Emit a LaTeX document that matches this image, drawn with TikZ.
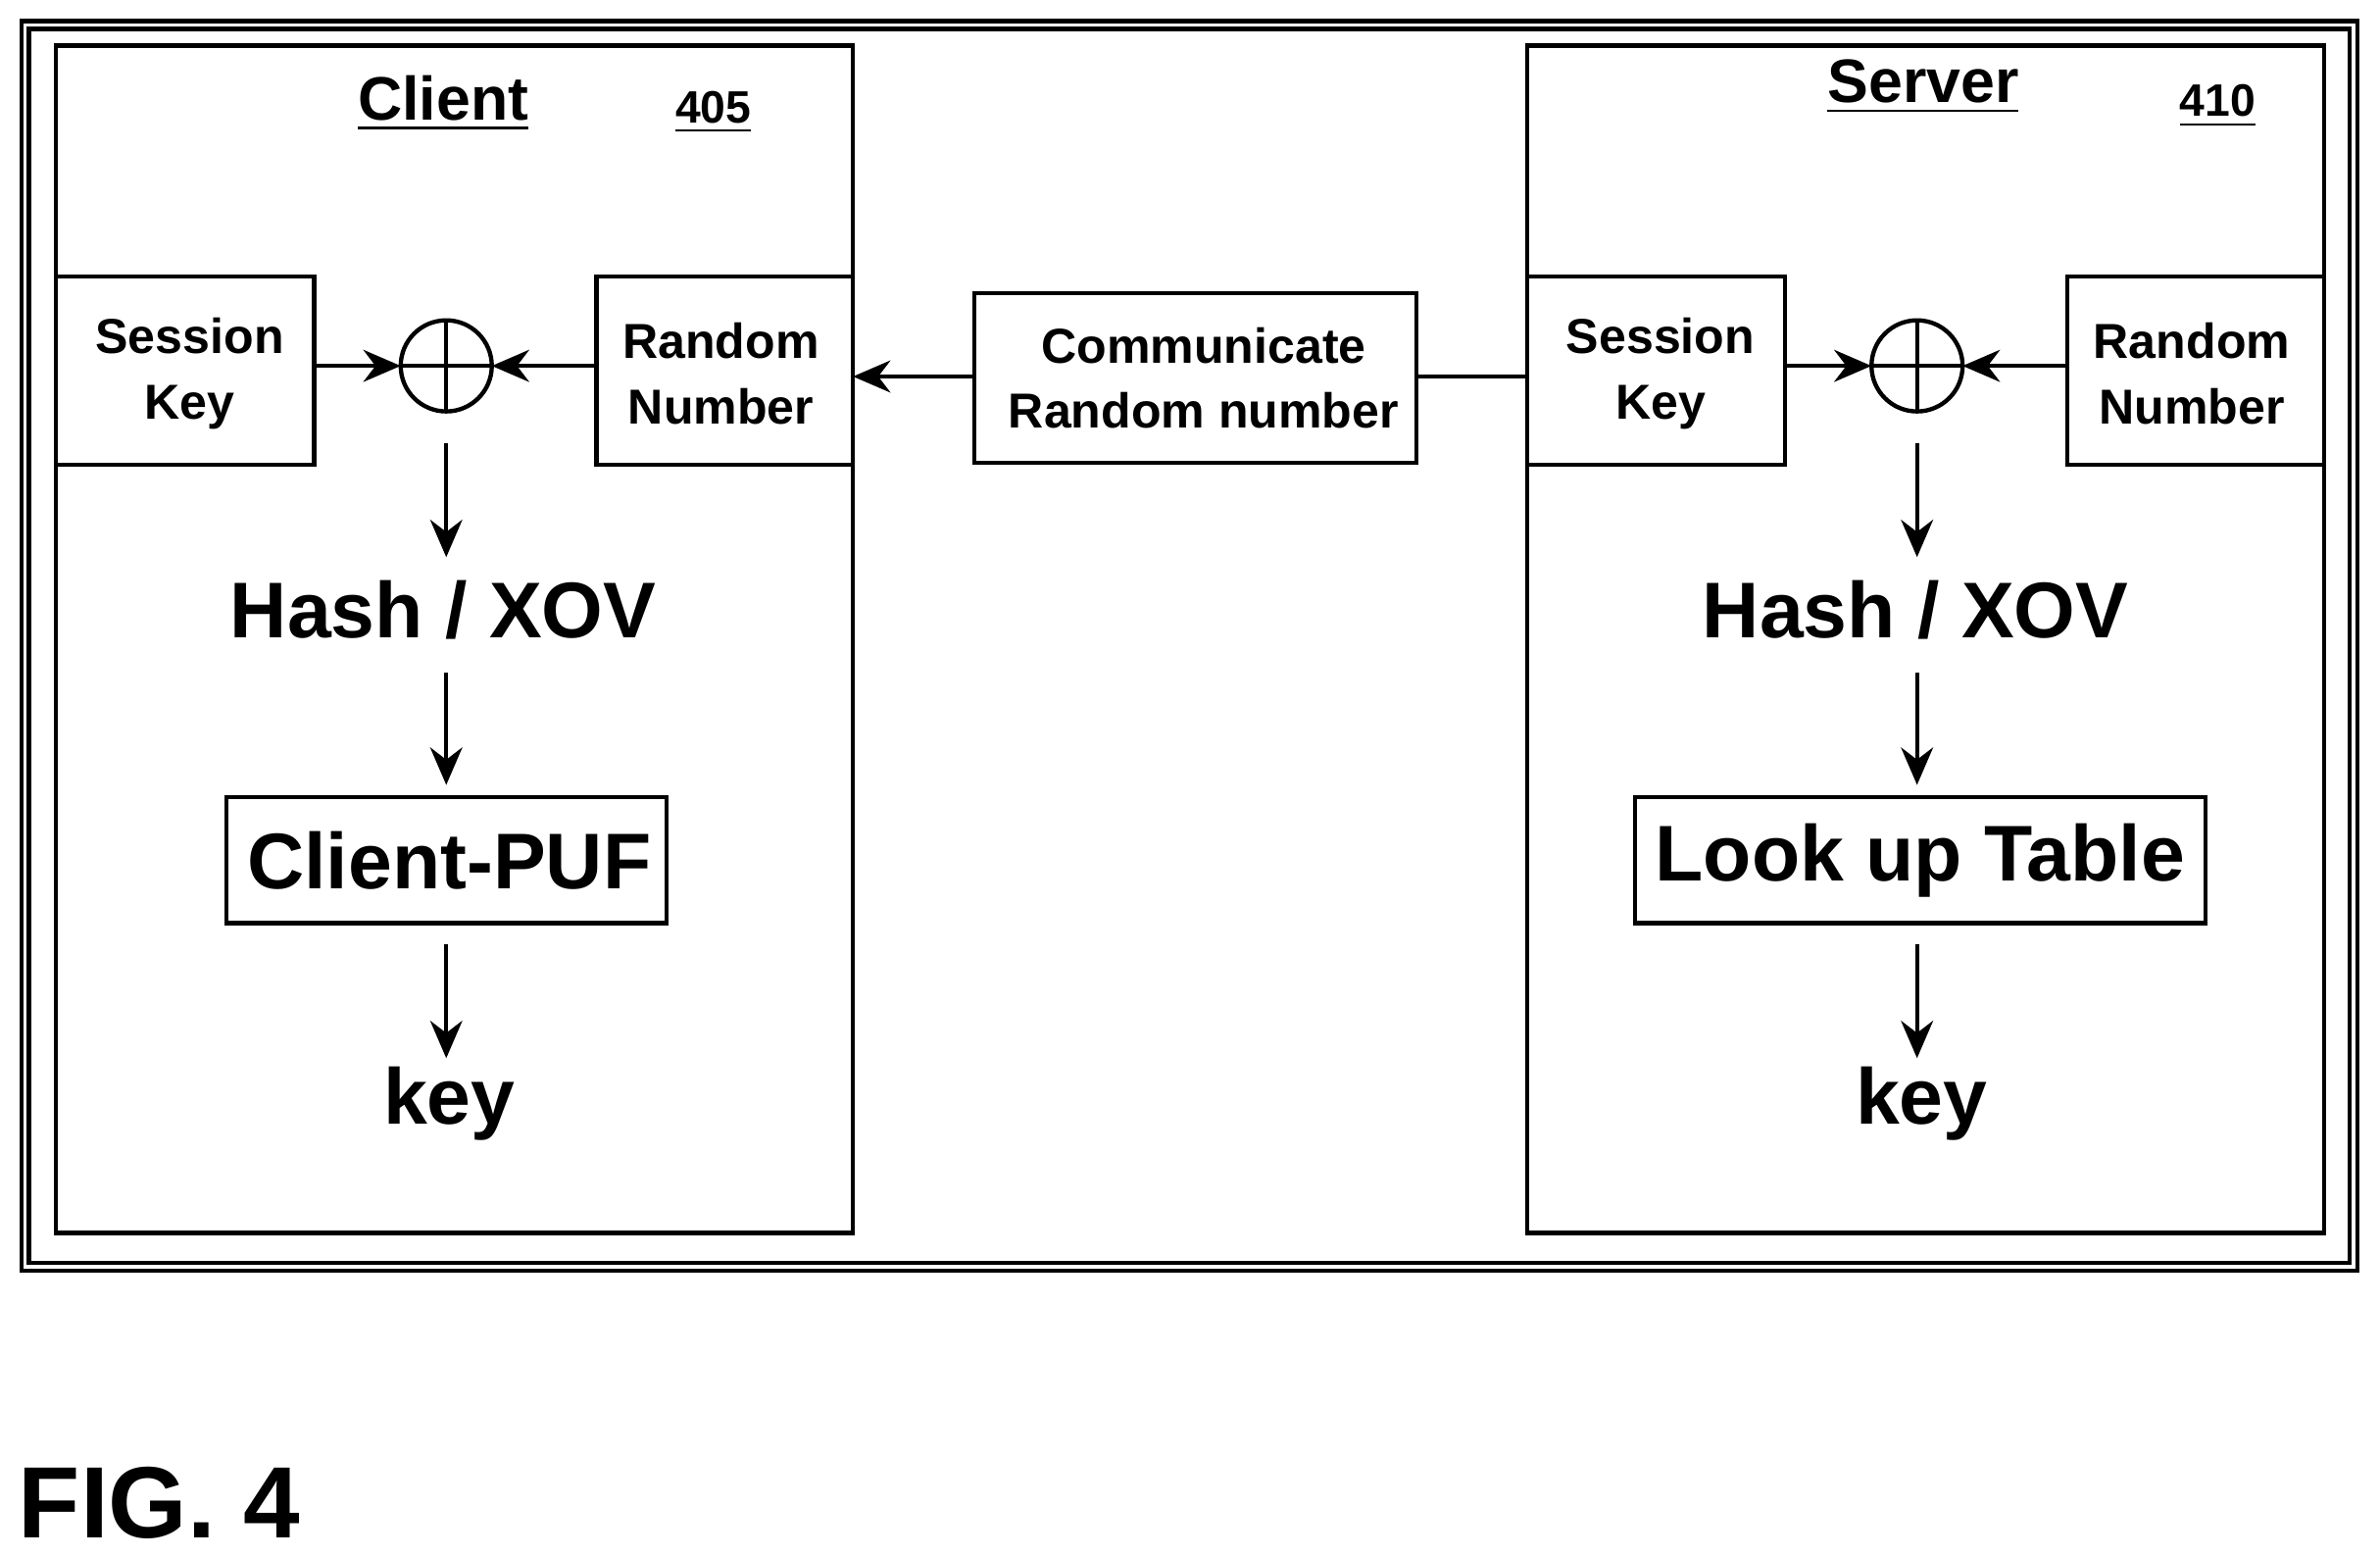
\documentclass[tikz,border=0pt]{standalone}
\usepackage{fontspec}
\setmainfont{Liberation Sans}
\usetikzlibrary{arrows.meta}
\begin{document}
\begin{tikzpicture}[x=0.01cm,y=-0.01cm,
  ln/.style={line width=0.8pt},
  arr/.style={ln,-{Stealth[length=7pt,width=6pt]}},
  box/.style={align=center,inner sep=0pt,font=\bfseries\fontsize{9.2}{12.2}\selectfont},
  big/.style={font=\bfseries\fontsize{14.8}{18}\selectfont,inner sep=0pt},
  ttl/.style={font=\bfseries\fontsize{11.5}{14}\selectfont,inner sep=0pt},
  num/.style={font=\bfseries\fontsize{8.5}{11}\selectfont,inner sep=0pt}]
\useasboundingbox (0,0) rectangle (1568,1025);
\draw[ln] (14,14) rectangle (1553,837);
\draw[ln] (19,19) rectangle (1548,832);
\draw[ln] (37,30) rectangle (562,812);
\draw[ln] (1006,30) rectangle (1531,812);
\node[ttl] (ct) at (292,68) {\underline{Client}};
\node[num] (cn) at (470,74) {\underline{405}};
\node[ttl] (st) at (1267,57) {\underline{Server}};
\node[num] (sn) at (1461,70) {\underline{410}};
% client
\draw[ln] (37,182) rectangle (207,306);
\node[box] (csk) at (125,246) {Session\\Key};
\draw[ln] (393,182) rectangle (562,306);
\node[box] (crn) at (475,246) {Random\\Number};
\coordinate (cskE) at (207,241);
\coordinate (crnW) at (393,241);
\draw[ln] (294,241) circle (30);
\coordinate (cxW) at (264,241); \coordinate (cxE) at (324,241);
\draw[ln] (264,241)--(324,241) (294,211)--(294,271);
\draw[arr] (cskE)--(cxW);
\draw[arr] (crnW)--(cxE);
\coordinate (c1) at (294,292); \coordinate (c2) at (294,367);
\draw[arr] (c1)--(c2);
\node[big] (ch) at (292,402) {Hash / XOV};
\coordinate (c3) at (294,443); \coordinate (c4) at (294,517);
\draw[arr] (c3)--(c4);
\draw[ln] (149,525) rectangle (439,608);
\node[big] (cp) at (296,567) {Client-PUF};
\coordinate (c5) at (294,622); \coordinate (c6) at (294,697);
\draw[arr] (c5)--(c6);
\node[big] (ck) at (296,727) {key};
% middle
\draw[ln] (642,193) rectangle (933,305);
\node[box] (cm) at (793,249) {Communicate\\Random number};
\coordinate (cmW) at (642,248); \coordinate (cmE) at (933,248);
\coordinate (crnE) at (562,248); \coordinate (sskW) at (1006,248);
\draw[arr] (cmW)--(crnE);
\draw[ln] (cmE)--(sskW);
% server
\draw[ln] (1006,182) rectangle (1176,306);
\node[box] (ssk) at (1094,246) {Session\\Key};
\draw[ln] (1362,182) rectangle (1531,306);
\node[box] (srn) at (1444,246) {Random\\Number};
\draw[ln] (1263,241) circle (30);
\draw[ln] (1233,241)--(1293,241) (1263,211)--(1263,271);
\coordinate (sskE) at (1176,241); \coordinate (srnW) at (1362,241);
\coordinate (sxW) at (1233,241); \coordinate (sxE) at (1293,241);
\draw[arr] (sskE)--(sxW);
\draw[arr] (srnW)--(sxE);
\coordinate (s1) at (1263,292); \coordinate (s2) at (1263,367);
\draw[arr] (s1)--(s2);
\node[big] (sh) at (1262,402) {Hash / XOV};
\coordinate (s3) at (1263,443); \coordinate (s4) at (1263,517);
\draw[arr] (s3)--(s4);
\draw[ln] (1077,525) rectangle (1453,608);
\node[big] (sl) at (1265,567) {Look up Table};
\coordinate (s5) at (1263,622); \coordinate (s6) at (1263,697);
\draw[arr] (s5)--(s6);
\node[big] (sk) at (1266,727) {key};
\node[font=\bfseries\fontsize{19}{22}\selectfont,inner sep=0pt] (fig) at (105,990) {FIG. 4};
\end{tikzpicture}
\end{document}
